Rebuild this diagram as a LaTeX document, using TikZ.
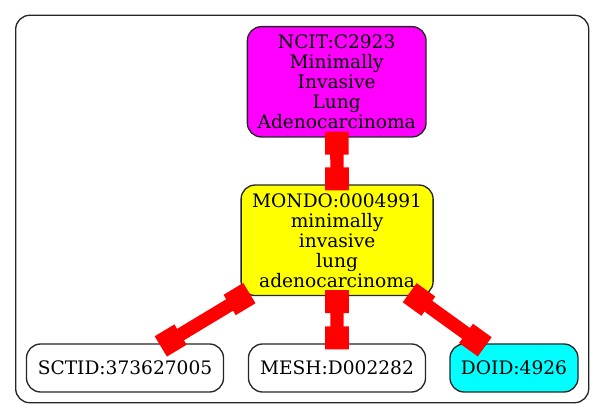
\documentclass[tikz,border=0pt]{standalone}
\usepackage{fontspec}
\setmainfont{DejaVu Serif}
\definecolor{gvmagenta}{RGB}{255,0,255}
\definecolor{gvyellow}{RGB}{255,255,0}
\definecolor{gvcyan}{RGB}{0,255,255}
\definecolor{gvred}{RGB}{255,0,0}
\begin{document}
\begin{tikzpicture}[x=1pt,y=-1pt,
  nodebox/.style={draw=black!85, line width=1.33pt, rounded corners=14pt, inner sep=0pt,
    align=center, font=\fontsize{18.6}{20}\selectfont},
  conn/.style={draw=gvred, line width=13.3pt},
  tipbox/.style={rectangle, fill=gvred, draw=none, minimum width=23pt, minimum height=23.7pt,
    inner sep=0pt, outer sep=0pt, outer xsep=-6pt, sloped, allow upside down}]
\useasboundingbox (0,0) rectangle (605,419);
\draw[draw=black!85, line width=1.33pt, rounded corners=14pt] (15.7,15.3) rectangle (588.7,402.7);
\node[nodebox, fill=gvmagenta, minimum width=178.7pt, minimum height=110.3pt] (ncit) at (336.7,81.8)
  {NCIT:C2923\\Minimally\\Invasive\\Lung\\Adenocarcinoma};
\node[nodebox, fill=gvyellow, minimum width=192pt, minimum height=110.5pt] (mondo) at (337.1,240.3)
  {MONDO:0004991\\minimally\\invasive\\lung\\adenocarcinoma};
\node[nodebox, fill=white, minimum width=197pt, minimum height=48pt] (sctid) at (125,368) {SCTID:373627005};
\node[nodebox, fill=white, minimum width=177pt, minimum height=48pt] (mesh) at (337,368) {MESH:D002282};
\node[nodebox, fill=gvcyan, minimum width=128pt, minimum height=48pt] (doid) at (514,368) {DOID:4926};
\foreach \a/\b in {ncit/mondo, mondo/sctid, mondo/mesh, mondo/doid}{
  \draw[conn] (\a) -- (\b) node[tipbox, pos=0, anchor=west] {} node[tipbox, pos=1, anchor=east] {};
}
\end{tikzpicture}
\end{document}
